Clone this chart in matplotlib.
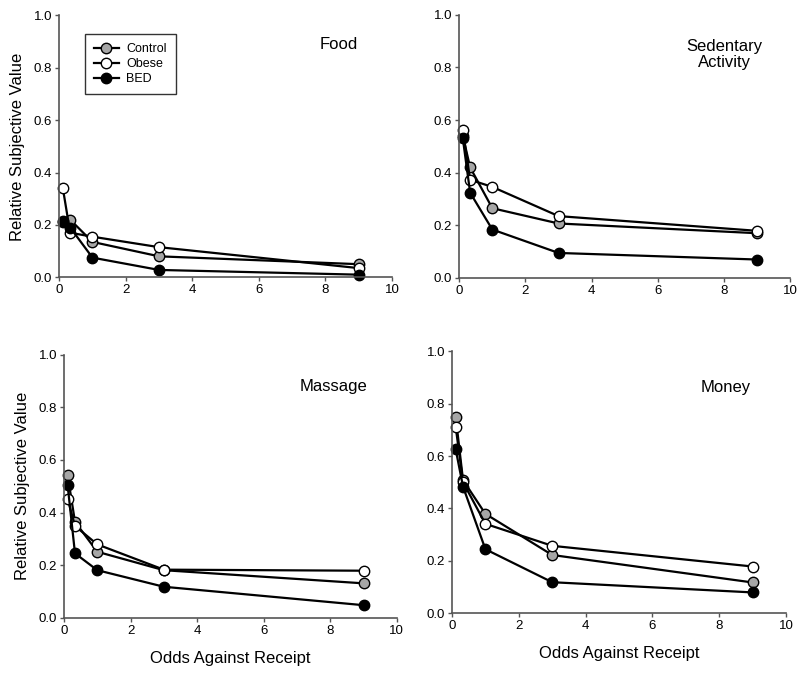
import matplotlib.pyplot as plt

plt.rcParams['font.family'] = ['Liberation Sans', 'DejaVu Sans']

odds = [0.11, 0.33, 1, 3, 9]

food_control = [0.21, 0.22, 0.135, 0.08, 0.05]
food_obese = [0.34, 0.17, 0.155, 0.115, 0.035]
food_bed = [0.215, 0.19, 0.075, 0.028, 0.01]

sed_control = [0.54, 0.42, 0.265, 0.207, 0.17]
sed_obese = [0.562, 0.373, 0.346, 0.235, 0.179]
sed_bed = [0.53, 0.324, 0.184, 0.095, 0.07]

mas_control = [0.541, 0.365, 0.251, 0.181, 0.131]
mas_obese = [0.452, 0.349, 0.279, 0.183, 0.179]
mas_bed = [0.503, 0.245, 0.181, 0.118, 0.048]

mon_control = [0.75, 0.508, 0.379, 0.222, 0.117]
mon_obese = [0.712, 0.50, 0.341, 0.257, 0.178]
mon_bed = [0.626, 0.483, 0.244, 0.118, 0.079]

groups = ['Control', 'Obese', 'BED']
face = ['#a6a6a6', 'white', 'black']

panels = [
    ('Food', [food_control, food_obese, food_bed], [0.074, 0.588, 0.416, 0.389], (0.84, 0.89)),
    ('Sedentary\nActivity', [sed_control, sed_obese, sed_bed], [0.574, 0.587, 0.414, 0.391], (0.80, 0.85)),
    ('Massage', [mas_control, mas_obese, mas_bed], [0.080, 0.082, 0.416, 0.391], (0.81, 0.878)),
    ('Money', [mon_control, mon_obese, mon_bed], [0.565, 0.089, 0.4175, 0.389], (0.82, 0.86)),
]

fig = plt.figure(figsize=(8, 6.73), dpi=100)

for i, (title, series, pos, tpos) in enumerate(panels):
    ax = fig.add_axes(pos)
    for name, vals, fc in zip(groups, series, face):
        ax.plot(odds, vals, color='black', lw=1.6, marker='o', ms=7.5,
                mfc=fc, mec='black', mew=1, label=name, clip_on=False)
    ax.set_xlim(0, 10)
    ax.set_ylim(0, 1)
    ax.set_xticks([0, 2, 4, 6, 8, 10])
    ax.set_yticks([0, 0.2, 0.4, 0.6, 0.8, 1.0])
    ax.set_yticklabels(['0.0', '0.2', '0.4', '0.6', '0.8', '1.0'])
    for s in ['top', 'right']:
        ax.spines[s].set_visible(False)
    for s in ['left', 'bottom']:
        ax.spines[s].set_color('#555555')
        ax.spines[s].set_linewidth(1.2)
    ax.tick_params(direction='out', length=3, width=1, color='#555555',
                   labelsize=9.5, pad=2)
    ax.text(tpos[0], tpos[1], title, transform=ax.transAxes, ha='center',
            va='center', fontsize=12, linespacing=1.1)
    if i % 2 == 0:
        ax.set_ylabel('Relative Subjective Value', fontsize=12, labelpad=6)
    if i >= 2:
        ax.set_xlabel('Odds Against Receipt', fontsize=12, labelpad=10)
    if i == 0:
        leg = ax.legend(loc='upper left', bbox_to_anchor=(0.078, 0.928),
                        borderaxespad=0, fontsize=9, frameon=True,
                        fancybox=False, handlelength=2.0, handletextpad=0.6,
                        borderpad=0.7, labelspacing=0.25)
        leg.get_frame().set_edgecolor('black')
        leg.get_frame().set_linewidth(1)

fig.savefig('out.png', dpi=100)
